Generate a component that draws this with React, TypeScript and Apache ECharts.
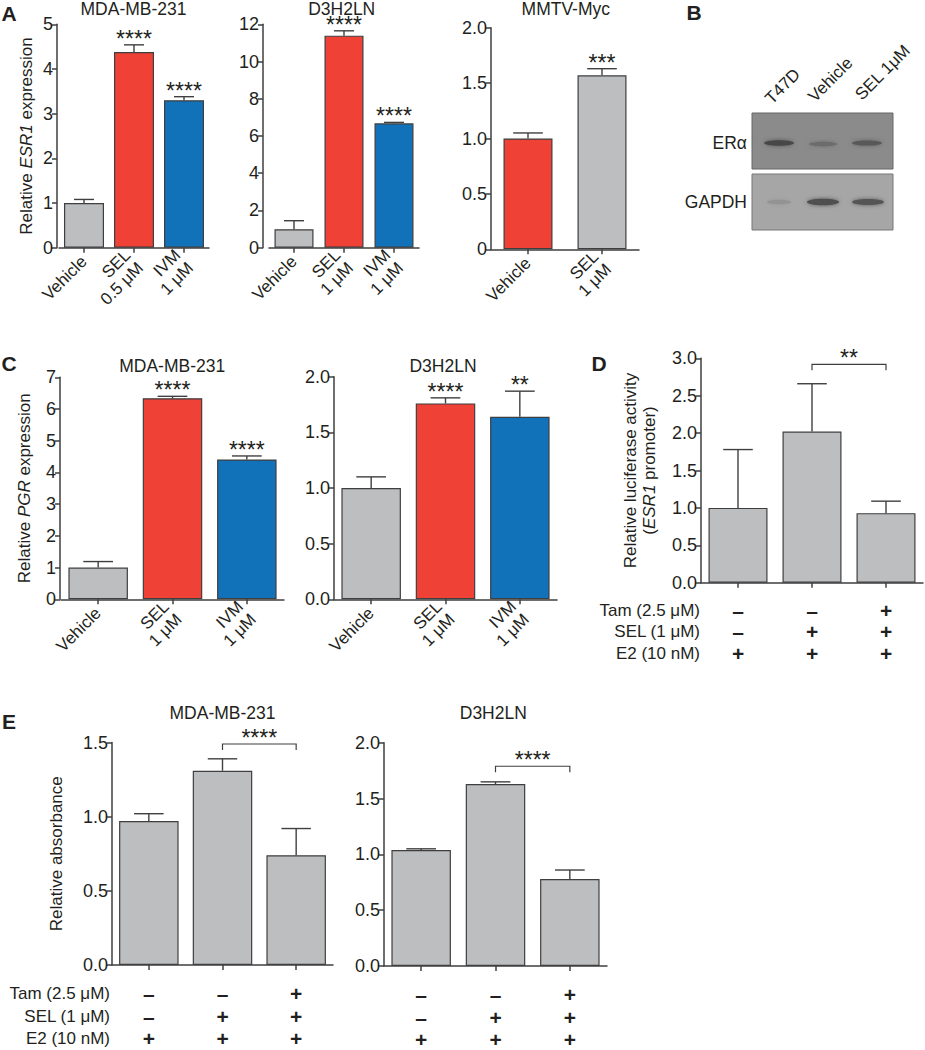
import React, { useEffect, useRef } from "react";
import * as echarts from "echarts";

const FONT = "'Liberation Sans', Arial, Helvetica, sans-serif";
const RED = "#ef4136";
const BLUE = "#1172ba";
const GRAY = "#bcbec0";
const INK = "#231f20";
const AXIS = "#3f3f3f";

// ---------- Panel A : relative ESR1 expression ----------
const aMdaCats = ["Vehicle", "SEL\n0.5 μM", "IVM\n1 μM"];
const aMdaMeans = [1.0, 4.38, 3.3];
const aMdaErr = [1.08, 4.54, 3.38];
const aMdaStars = ["", "****", "****"];

const aD3Cats = ["Vehicle", "SEL\n1 μM", "IVM\n1 μM"];
const aD3Means = [0.99, 11.39, 6.68];
const aD3Err = [1.45, 11.65, 6.73];
const aD3Stars = ["", "****", "****"];

const aMmtvCats = ["Vehicle", "SEL\n1 μM"];
const aMmtvMeans = [1.0, 1.57];
const aMmtvErr = [1.05, 1.63];
const aMmtvStars = ["", "***"];

// ---------- Panel C : relative PGR expression ----------
const cCats = ["Vehicle", "SEL\n1 μM", "IVM\n1 μM"];
const cMdaMeans = [1.0, 6.34, 4.41];
const cMdaErr = [1.19, 6.4, 4.52];
const cMdaStars = ["", "****", "****"];
const cD3Means = [1.0, 1.76, 1.64];
const cD3Err = [1.1, 1.81, 1.87];
const cD3Stars = ["", "****", "**"];

// ---------- Panel D : luciferase ----------
const treatCats = ["E2", "E2 + SEL", "E2 + SEL + Tam"];
const dMeans = [1.0, 2.02, 0.93];
const dErr = [1.78, 2.66, 1.09];
const dBracket = [1, 2, 2.92];
const dBracketLabel = "**";

// ---------- Panel E : absorbance ----------
const eMdaMeans = [0.97, 1.31, 0.74];
const eMdaErr = [1.02, 1.39, 0.92];
const eMdaBracket = [1, 2, 1.49];
const eD3Means = [1.04, 1.63, 0.78];
const eD3Err = [1.05, 1.65, 0.86];
const eD3Bracket = [1, 2, 1.79];
const eBracketLabel = "****";

// ---------- treatment rows ----------
const rowNames = ["Tam (2.5 μM)", "SEL (1 μM)", "E2 (10 nM)"];
const tamRow = ["–", "–", "+"];
const selRow = ["–", "+", "+"];
const e2Row = ["+", "+", "+"];
const treatRows = [tamRow, selRow, e2Row];

const fmtInt = (v: number) => String(v);
const fmt1 = (v: number) => v.toFixed(1);
const fmtZero1 = (v: number) => (v === 0 ? "0" : v.toFixed(1));

type Panel = {
  cats: string[];
  means: number[];
  err: number[];
  stars?: string[];
  colors: string[];
  grid: { left: number; top: number; width: number; height: number };
  yMax: number;
  yInt: number;
  fmt: (v: number) => string;
  yOffset: number;
  yName?: string;
  nameGap?: number;
  barWidth: number;
  showX: boolean;
  bracket?: number[];
  bracketLabel?: string;
  rowOffsets?: number[];
  rowNameGap?: number;
};

const panels: Panel[] = [
  {
    cats: aMdaCats, means: aMdaMeans, err: aMdaErr, stars: aMdaStars,
    colors: [GRAY, RED, BLUE],
    grid: { left: 59, top: 24.3, width: 150, height: 223.4 },
    yMax: 5, yInt: 1, fmt: fmtInt, yOffset: 2,
    yName: "Relative {i|ESR1} expression", nameGap: 21, barWidth: 40, showX: true,
  },
  {
    cats: aD3Cats, means: aD3Means, err: aD3Err, stars: aD3Stars,
    colors: [GRAY, RED, BLUE],
    grid: { left: 269, top: 24.3, width: 150, height: 223.4 },
    yMax: 12, yInt: 2, fmt: fmtInt, yOffset: 6, barWidth: 39, showX: true,
  },
  {
    cats: aMmtvCats, means: aMmtvMeans, err: aMmtvErr, stars: aMmtvStars,
    colors: [RED, GRAY],
    grid: { left: 491, top: 27.7, width: 148, height: 221.6 },
    yMax: 2, yInt: 0.5, fmt: fmtZero1, yOffset: 0, barWidth: 49, showX: true,
  },
  {
    cats: cCats, means: cMdaMeans, err: cMdaErr, stars: cMdaStars,
    colors: [GRAY, RED, BLUE],
    grid: { left: 61, top: 377.3, width: 223, height: 222 },
    yMax: 7, yInt: 1, fmt: fmtInt, yOffset: 1,
    yName: "Relative {i|PGR} expression", nameGap: 26, barWidth: 59.5, showX: true,
  },
  {
    cats: cCats, means: cD3Means, err: cD3Err, stars: cD3Stars,
    colors: [GRAY, RED, BLUE],
    grid: { left: 334, top: 376.7, width: 223, height: 222.6 },
    yMax: 2, yInt: 0.5, fmt: fmt1, yOffset: 0, barWidth: 59.5, showX: true,
  },
  {
    cats: treatCats, means: dMeans, err: dErr,
    colors: [GRAY, GRAY, GRAY],
    grid: { left: 701, top: 358.3, width: 222, height: 224.4 },
    yMax: 3, yInt: 0.5, fmt: fmt1, yOffset: 0,
    yName: "Relative luciferase activity\n({i|ESR1} promoter)", nameGap: 42,
    barWidth: 59, showX: false, bracket: dBracket, bracketLabel: dBracketLabel,
    rowOffsets: [27.3, 49, 70.6], rowNameGap: 1,
  },
  {
    cats: treatCats, means: eMdaMeans, err: eMdaErr,
    colors: [GRAY, GRAY, GRAY],
    grid: { left: 112, top: 742.5, width: 221, height: 222.5 },
    yMax: 1.5, yInt: 0.5, fmt: fmt1, yOffset: 0,
    yName: "Relative absorbance", nameGap: 46,
    barWidth: 59.5, showX: false, bracket: eMdaBracket, bracketLabel: eBracketLabel,
    rowOffsets: [28.3, 51.7, 73.3], rowNameGap: 2,
  },
  {
    cats: treatCats, means: eD3Means, err: eD3Err,
    colors: [GRAY, GRAY, GRAY],
    grid: { left: 384, top: 742.8, width: 223, height: 223.2 },
    yMax: 2, yInt: 0.5, fmt: fmt1, yOffset: 0,
    barWidth: 59.5, showX: false, bracket: eD3Bracket, bracketLabel: eBracketLabel,
    rowOffsets: [28.3, 51.7, 73.3],
  },
];

const STAR_LIFT = 6;

const starText = (text: string, x: number, y: number) => ({
  type: "text",
  style: {
    text, x, y,
    align: "center", textAlign: "center",
    verticalAlign: "middle", textVerticalAlign: "middle",
    fontSize: 23, lineHeight: 11, fontFamily: FONT, fill: INK,
  },
});

const makeErrRender = (stars?: string[]) => (params: any, api: any) => {
  const i = api.value(0);
  const m = api.value(1);
  const e = api.value(2);
  const base = api.coord([i, m]);
  const top = api.coord([i, e]);
  const band = api.size([1, 0])[0];
  const half = band * 0.2;
  const children: any[] = [
    { type: "line", shape: { x1: base[0], y1: base[1], x2: top[0], y2: top[1] }, style: { stroke: AXIS, lineWidth: 1.4 } },
    { type: "line", shape: { x1: top[0] - half, y1: top[1], x2: top[0] + half, y2: top[1] }, style: { stroke: AXIS, lineWidth: 1.4 } },
  ];
  const s = stars ? stars[params.dataIndex] : "";
  if (s) children.push(starText(s, top[0], top[1] - STAR_LIFT));
  return { type: "group", children };
};

const makeBracketRender = (label: string) => (_params: any, api: any) => {
  const a = api.coord([api.value(0), api.value(2)]);
  const b = api.coord([api.value(1), api.value(2)]);
  const t = 6;
  return {
    type: "group",
    children: [
      {
        type: "polyline",
        shape: { points: [[a[0], a[1] + t], [a[0], a[1]], [b[0], b[1]], [b[0], b[1] + t]] },
        style: { stroke: AXIS, lineWidth: 1.2, fill: "none" },
      },
      starText(label, (a[0] + b[0]) / 2, a[1] - STAR_LIFT),
    ],
  };
};

const txt = (text: string, x: number, y: number, size: number, extra: any = {}) => ({
  type: "text",
  x, y,
  rotation: extra.rotation || 0,
  style: {
    text,
    fontSize: size,
    fontFamily: FONT,
    fontWeight: extra.bold ? "bold" : "normal",
    fill: INK,
    lineHeight: extra.lineHeight,
    align: extra.align || "center", textAlign: extra.align || "center",
    verticalAlign: extra.valign || "middle", textVerticalAlign: extra.valign || "middle",
  },
});

function buildOption() {
  const grid: any[] = [];
  const xAxis: any[] = [];
  const yAxis: any[] = [];
  const series: any[] = [];

  panels.forEach((p, gi) => {
    grid.push({ ...p.grid, containLabel: false });
    xAxis.push({
      gridIndex: gi,
      type: "category",
      data: p.cats,
      axisLine: { show: true, lineStyle: { color: AXIS, width: 1.5 } },
      axisTick: { show: true, alignWithLabel: true, length: 5, lineStyle: { color: AXIS, width: 1.5 } },
      axisLabel: {
        show: p.showX, rotate: 45, margin: 11, interval: 0,
        fontSize: 17, fontFamily: FONT, color: INK, lineHeight: 18,
      },
    });
    yAxis.push({
      gridIndex: gi,
      type: "value",
      min: 0, max: p.yMax, interval: p.yInt,
      offset: p.yOffset,
      splitLine: { show: false },
      axisLine: { show: true, lineStyle: { color: AXIS, width: 1.5 } },
      axisTick: { show: true, length: 5, lineStyle: { color: AXIS, width: 1.5 } },
      axisLabel: { formatter: p.fmt, fontSize: 18, fontFamily: FONT, color: INK, margin: 4 },
      name: p.yName || "",
      nameLocation: "middle",
      nameGap: p.nameGap || 0,
      nameRotate: 90,
      nameTextStyle: {
        fontSize: 17, fontFamily: FONT, color: INK, lineHeight: 19,
        rich: { i: { fontStyle: "italic", fontSize: 17, fontFamily: FONT, color: INK, lineHeight: 19 } },
      },
    });
    series.push({
      type: "bar",
      xAxisIndex: gi, yAxisIndex: gi,
      barWidth: p.barWidth,
      data: p.means.map((v, j) => ({ value: v, itemStyle: { color: p.colors[j] } })),
      itemStyle: { borderColor: AXIS, borderWidth: 1.2 },
      z: 2,
    });
    series.push({
      type: "custom",
      xAxisIndex: gi, yAxisIndex: gi,
      data: p.means.map((v, j) => [j, v, p.err[j]]),
      encode: { x: 0, y: [1, 2] },
      renderItem: makeErrRender(p.stars),
      z: 5,
    });
    if (p.bracket) {
      series.push({
        type: "custom",
        xAxisIndex: gi, yAxisIndex: gi,
        data: [p.bracket],
        encode: { x: [0, 1], y: 2 },
        renderItem: makeBracketRender(p.bracketLabel || ""),
        z: 5,
      });
    }
  });

  // treatment rows (extra category axes under D and E)
  panels.forEach((p, gi) => {
    if (!p.rowOffsets) return;
    treatRows.forEach((row, k) => {
      xAxis.push({
        gridIndex: gi,
        type: "category",
        data: row,
        position: "bottom",
        offset: p.rowOffsets![k],
        axisLine: { show: false },
        axisTick: { show: false },
        axisLabel: {
          margin: 0, interval: 0, verticalAlign: "middle", lineHeight: 16,
          fontSize: 21, fontWeight: "bold", fontFamily: FONT, color: INK,
        },
        name: p.rowNameGap != null ? rowNames[k] : "",
        nameLocation: "start",
        nameGap: p.rowNameGap || 0,
        nameTextStyle: { fontSize: 17, fontFamily: FONT, color: INK, lineHeight: 18 },
      });
    });
  });

  const graphic: any[] = [
    // panel letters
    txt("A", 9, 13.5, 21, { bold: true }),
    txt("B", 694, 12, 21, { bold: true }),
    txt("C", 9, 363, 21, { bold: true }),
    txt("D", 599, 363, 21, { bold: true }),
    txt("E", 9, 721, 21, { bold: true }),
    // titles
    txt("MDA-MB-231", 133.5, 9, 17.5, { lineHeight: 17 }),
    txt("D3H2LN", 341.7, 9, 17.5, { lineHeight: 17 }),
    txt("MMTV-Myc", 565.8, 9, 17.5, { lineHeight: 17 }),
    txt("MDA-MB-231", 172.2, 366, 17.5),
    txt("D3H2LN", 443, 365.5, 17.5),
    txt("MDA-MB-231", 222.5, 713, 17.5),
    txt("D3H2LN", 493.3, 713, 17.5),
    // western blot (panel B)
    { type: "rect", shape: { x: 752, y: 113, width: 141, height: 56 }, style: { fill: "#8b8b8b", stroke: "#666666", lineWidth: 1 } },
    { type: "rect", shape: { x: 752, y: 174, width: 141, height: 56 }, style: { fill: "#a6a6a6", stroke: "#777777", lineWidth: 1 } },
    { type: "ellipse", shape: { cx: 779, cy: 143, rx: 15, ry: 2.8 }, style: { fill: "#474747", shadowBlur: 4, shadowColor: "#555" } },
    { type: "ellipse", shape: { cx: 823, cy: 144, rx: 14, ry: 2.3 }, style: { fill: "#6c6c6c", shadowBlur: 4, shadowColor: "#707070" } },
    { type: "ellipse", shape: { cx: 867, cy: 143, rx: 15, ry: 2.6 }, style: { fill: "#585858", shadowBlur: 4, shadowColor: "#606060" } },
    { type: "ellipse", shape: { cx: 779, cy: 202, rx: 12, ry: 2.2 }, style: { fill: "#939393", shadowBlur: 4, shadowColor: "#999" } },
    { type: "ellipse", shape: { cx: 823, cy: 202, rx: 16, ry: 3.2 }, style: { fill: "#4f4f4f", shadowBlur: 4, shadowColor: "#5a5a5a" } },
    { type: "ellipse", shape: { cx: 868, cy: 202, rx: 16, ry: 3 }, style: { fill: "#555555", shadowBlur: 4, shadowColor: "#5e5e5e" } },
    txt("ERα", 747, 143, 17.5, { align: "right" }),
    txt("GAPDH", 747, 202, 17.5, { align: "right" }),
    txt("T47D", 774, 107, 17, { align: "left", valign: "bottom", rotation: Math.PI / 4 }),
    txt("Vehicle", 817, 105, 17, { align: "left", valign: "bottom", rotation: Math.PI / 4 }),
    txt("SEL 1μM", 864, 103, 17, { align: "left", valign: "bottom", rotation: Math.PI / 4 }),
  ];

  return {
    animation: false,
    backgroundColor: "#ffffff",
    textStyle: { fontFamily: FONT },
    grid, xAxis, yAxis, series, graphic,
  };
}

export default function App() {
  const ref = useRef<HTMLDivElement>(null);
  useEffect(() => {
    const chart = echarts.init(ref.current as HTMLDivElement, null, { renderer: "svg" });
    chart.setOption(buildOption() as any);
    return () => chart.dispose();
  }, []);
  return (
    <div
      ref={ref}
      style={{ position: "absolute", left: 0, top: 0, width: 925, height: 1050, background: "#fff" }}
    />
  );
}
